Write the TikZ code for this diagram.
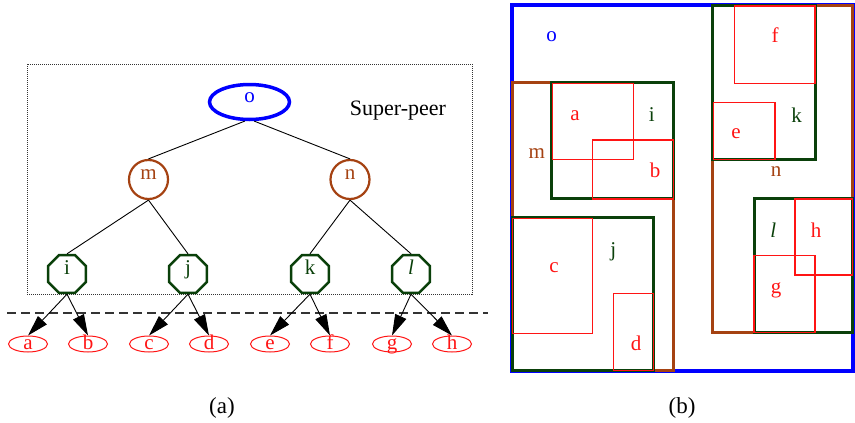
\documentclass[tikz,border=0pt]{standalone}
\usepackage{fontspec}
\setmainfont{Liberation Serif}
\usetikzlibrary{shapes.geometric,arrows.meta}
\definecolor{oblue}{RGB}{0,0,255}
\definecolor{mbrown}{RGB}{165,66,18}
\definecolor{igreen}{RGB}{10,64,10}
\definecolor{leafred}{RGB}{255,20,20}
\tikzset{
  letter/.style={font=\fontsize{21}{21}\selectfont, inner sep=0pt},
  topnode/.style={ellipse, draw=oblue, line width=3.5pt, minimum width=80pt,
    minimum height=35pt, inner sep=0pt, letter, text=oblue,
    text height=6pt, text depth=6pt},
  midnode/.style={circle, draw=mbrown, line width=2.2pt, minimum size=39pt,
    inner sep=0pt, letter, text=mbrown, text height=6pt, text depth=6pt},
  lownode/.style={regular polygon, regular polygon sides=8, draw=igreen,
    line width=2.5pt, minimum size=41pt, inner sep=0pt, letter, text=igreen,
    text height=6pt, text depth=6pt},
  leafnode/.style={ellipse, draw=leafred, line width=1pt, minimum width=39pt,
    minimum height=16pt, inner sep=0pt, letter, text=leafred,
    text height=10pt, text depth=-6pt},
  treeedge/.style={draw=black, line width=0.9pt},
  leafarrow/.style={draw=black, line width=0.9pt,
    -{Triangle[length=21pt,width=12pt]}},
  superbox/.style={draw=black!80, line width=1pt, dash pattern=on 1pt off 1pt},
  cutline/.style={draw=black!80, line width=1.3pt, dash pattern=on 9pt off 5pt},
  bluebox/.style={draw=oblue, line width=4pt},
  brownbox/.style={draw=mbrown, line width=3pt},
  greenbox/.style={draw=igreen, line width=3pt},
  redbox/.style={draw=leafred, line width=1.3pt},
  caption/.style={font=\fontsize{23}{23}\selectfont, inner sep=0pt},
}
\begin{document}
\begin{tikzpicture}[x=1pt,y=-1pt]
\useasboundingbox[fill=white] (0,0) rectangle (855,423);

% (a) super-peer tree
\draw[superbox] (27,64) rectangle (472,294);
\node[letter, font=\fontsize{22}{22}\selectfont] (sp) at (398,111) {Super-peer};

\node[topnode] (o) at (249.5,102) {o};
\node[midnode] (m) at (148.5,179.5) {m};
\node[midnode] (n) at (350,179.5) {n};
\node[lownode] (i) at (67,274) {i};
\node[lownode] (j) at (188,274) {j};
\node[lownode] (k) at (310,274) {k};
\node[lownode] (l) at (411,274) {\textit{l}};

\node[leafnode] (a) at (28,344) {a};
\node[leafnode] (b) at (88,344) {b};
\node[leafnode] (c) at (149,344) {c};
\node[leafnode] (d) at (209,344) {d};
\node[leafnode] (e) at (270,344) {e};
\node[leafnode] (f) at (330,344) {f};
\node[leafnode] (g) at (392,344) {g};
\node[leafnode] (h) at (452,344) {h};

\draw[treeedge] (o.256) -- (m.north);
\draw[treeedge] (o.284) -- (n.north);
\draw[treeedge] (m.south) -- (i.north);
\draw[treeedge] (m.south) -- (j.north);
\draw[treeedge] (n.south) -- (k.north);
\draw[treeedge] (n.south) -- (l.north);

\coordinate (cutL) at (7,313);
\coordinate (cutR) at (488,313);
\draw[cutline] (cutL) -- (cutR);

\draw[leafarrow] (i.south) -- (a.north);
\draw[leafarrow] (i.south) -- (b.north);
\draw[leafarrow] (j.south) -- (c.north);
\draw[leafarrow] (j.south) -- (d.north);
\draw[leafarrow] (k.south) -- (e.north);
\draw[leafarrow] (k.south) -- (f.north);
\draw[leafarrow] (l.south) -- (g.north);
\draw[leafarrow] (l.south) -- (h.north);

\node[caption] (capa) at (222,408) {(a)};

% (b) nested regions
\draw[bluebox] (512,5) rectangle (852.5,370.7);

\draw[brownbox] (512.5,82.3) rectangle (673.3,370.7);
\draw[brownbox] (712.7,5) rectangle (852.5,332.7);

\draw[greenbox] (551.7,82.3) rectangle (673.3,198.3);
\draw[greenbox] (512.5,217.3) rectangle (653.3,370.7);
\draw[greenbox] (712.7,5) rectangle (815,159);
\draw[greenbox] (754,198.3) rectangle (852.5,332.7);

\draw[redbox] (552.7,83.3) rectangle (633.3,159.3);
\draw[redbox] (592.7,140) rectangle (673.3,199);
\draw[redbox] (512.5,218.3) rectangle (592.7,333.3);
\draw[redbox] (613.3,293.3) rectangle (653.3,370.7);
\draw[redbox] (734.3,6) rectangle (815,83.3);
\draw[redbox] (713.7,102.3) rectangle (775,159.3);
\draw[redbox] (795,199) rectangle (852.5,275);
\draw[redbox] (754,255.7) rectangle (815,332.7);

\node[letter, text=oblue] (ro) at (551.7,36.7) {o};
\node[letter, text=mbrown] (rm) at (536.7,153.3) {m};
\node[letter, text=mbrown] (rn) at (776,171.7) {n};
\node[letter, text=igreen] (ri) at (651.7,115) {i};
\node[letter, text=igreen] (rj) at (613.3,251.7) {j};
\node[letter, text=igreen] (rk) at (796.7,115) {k};
\node[letter, text=igreen] (rl) at (773.3,230) {\textit{l}};
\node[letter, text=leafred] (ra) at (575,116) {a};
\node[letter, text=leafred] (rb) at (655,170) {b};
\node[letter, text=leafred] (rc) at (554,267.7) {c};
\node[letter, text=leafred] (rd) at (636,343.3) {d};
\node[letter, text=leafred] (re) at (736,133.3) {e};
\node[letter, text=leafred] (rf) at (775,35) {f};
\node[letter, text=leafred] (rg) at (776,290) {g};
\node[letter, text=leafred] (rh) at (816,230) {h};

\node[caption] (capb) at (682,408) {(b)};
\end{tikzpicture}
\end{document}
